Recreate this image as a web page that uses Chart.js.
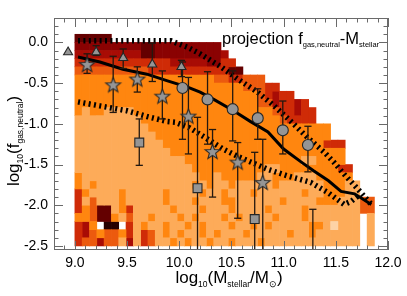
<!DOCTYPE html>
<html><head><meta charset="utf-8">
<script src="https://cdn.jsdelivr.net/npm/chart.js@4/dist/chart.umd.min.js"></script>
<style>html,body{margin:0;padding:0;background:#fff;}#wrap{width:407px;height:296px;}</style>
</head><body><div id="wrap"><canvas id="c" width="407" height="296"></canvas></div>
<script>
// ---------- axes ----------
const xRange = [8.8, 12.0];
const yRange = [-2.55, 0.3];
const xTickValues = [9.0, 9.5, 10.0, 10.5, 11.0, 11.5, 12.0];
const yTickValues = [-2.5, -2.0, -1.5, -1.0, -0.5, 0.0];

// ---------- 2D histogram (rows from top y=0.1 downward, 0.1 tall; columns from x=9.0, 0.07 wide) ----------
const binX0 = 9.0, binW = 0.07, binYTop = 0.1, binH = 0.1, nCols = 41;
const heatColors = { p:'#fdd3a6', l:'#fdab59', o:'#ff860f', d:'#ec5a0e', r:'#cf2b07', m:'#a80c05', k:'#8a0202', K:'#640000', x:'#280000' };
// run-length coded rows: code letter + number of cells ('.' = empty)
const heatRows = [
  "K5",
  "k9 K2 k9",
  "m9 K2 k9 m1",
  "r13 m5 k2 r2",
  "d10 r11 K2",
  "o19 d2 r2 d3",
  "o23 d3 r2",
  "o25 d1 r1 m1 r2",
  "o25 d2 m1 r2 m1 r1",
  "o1 l1 o2 l4 o19 d1 r2 m1 r2",
  "l9 o19 d1 r4",
  "l10 o25",
  "l11 o24",
  "l12 o22 r3",
  "l13 o24",
  "l15 o16 l2 o4",
  "l16 o10 l2 o8 r2",
  "o1 l16 o2 l1 o5 l2 o3 l3 o5",
  "o1 l1 o1 l13 o1 l1 o1 l2 o1 l5 o1 l6 o3 l2",
  "r1 o1 l4 o1 l5 o1 l4 o1 l2 o1 l3 o1 l6 o1 l2 o3 l2",
  "r1 l1 d1 l3 o1 l5 o1 l3 o1 l3 o2 l6 o1 l4 o3 l3 d2",
  "r1 o1 d1 K2 l1 o1 r1 l5 o1 l3 o1 l3 o1 l4 o1 l4 o1 l7 d2",
  "o2 d1 K2 o1 l1 d1 l2 o1 l3 o1 l1 o1 l3 o1 l1 o1 l4 o1 l3 o1 l7 .1 l1",
  "r1 m1 o1 .1 x2 .1 r1 l1 o1 l2 o1 l2 o1 l1 o1 l3 o1 l2 o1 l1 o1 l5 o2 l1 p1 l3 .1 l1",
  "r1 m1 d1 o1 d2 o1 r1 l1 r1 d1 l1 o1 l1 o1 l2 o1 l1 o1 l3 o1 l5 o1 l2 o1 l6 .1 l1",
  "r1 d2 m1 d2 l1 m1 l1 r1 d1 l2 o1 l1 o1 l2 o1 l2 o1 l3 o1 l13 .1 l1"
];

// ---------- curves ----------
const medianX = [9.03, 9.24, 9.46, 9.69, 9.88, 10.08, 10.2, 10.33, 10.52, 10.68, 10.85, 11.0, 11.17, 11.29, 11.43, 11.55, 11.68, 11.84];
const medianY = [-0.18, -0.24, -0.33, -0.39, -0.47, -0.55, -0.61, -0.70, -0.84, -0.97, -1.10, -1.31, -1.47, -1.58, -1.70, -1.83, -1.86, -1.99];
const upperX = [9.03, 9.5, 9.92, 10.08, 10.2, 10.4, 10.56, 10.75, 10.9, 11.07, 11.23, 11.39, 11.48, 11.58, 11.71, 11.84];
const upperY = [0.02, 0.02, 0.02, -0.06, -0.14, -0.30, -0.45, -0.61, -0.77, -0.97, -1.17, -1.35, -1.47, -1.62, -1.80, -1.99];
const lowerX = [9.03, 9.24, 9.5, 9.69, 9.88, 9.96, 10.1, 10.25, 10.42, 10.56, 10.85, 11.04, 11.26, 11.42, 11.58, 11.65, 11.72];
const lowerY = [-0.73, -0.78, -0.84, -0.91, -0.97, -0.98, -1.05, -1.17, -1.31, -1.40, -1.56, -1.64, -1.72, -1.84, -1.99, -1.95, -1.88];

// ---------- observational points ----------
const starX  = [9.117, 9.367, 9.598, 9.838, 10.088, 10.319, 10.56, 10.80];
const starY  = [-0.27, -0.52, -0.45, -0.66, -0.905, -1.34, -1.47, -1.72];
const starLo = [-0.38, -0.86, -0.61, -0.94, -1.37, -1.90, -2.16, -2.80];
const starHi = [-0.14, -0.17, -0.30, -0.35, -0.43, -1.07, -1.23, -1.19];
const circX  = [10.031, 10.271, 10.512, 10.752, 10.992, 11.233];
const circY  = [-0.56, -0.70, -0.82, -0.93, -1.08, -1.26];
const circLo = [-1.19, -1.25, -1.21, -1.19, -1.37, -1.59];
const circHi = [-0.24, -0.36, -0.35, -0.57, -0.72, -1.03];
const sqX  = [9.617, 10.175, 10.723, 11.28];
const sqY  = [-1.23, -1.79, -2.17, -2.90];
const sqLo = [-1.51, -3.00, -3.00, -3.50];
const sqHi = [-0.94, -0.92, -1.35, -2.05];
const triX  = [8.935, 9.204, 9.463, 9.742, 10.021];
const triY  = [-0.12, -0.12, -0.19, -0.27, -0.30];
const triLo = [null, -0.16, -0.32, -0.48, -0.42];
const triHi = [null, -0.04, -0.08, -0.01, -0.22];

// ---------- build ----------
const grid = heatRows.map(s => { let o = ''; s.split(' ').forEach(t => { o += t[0].repeat(parseInt(t.slice(1), 10)); }); return o; });
const heatDatasets = Object.keys(heatColors).map(code => {
  const data = [];
  for (let j = 0; j < nCols; j++) {
    let i = 0;
    while (i < grid.length) {
      if (grid[i][j] === code) {
        let k = i;
        while (k + 1 < grid.length && grid[k + 1][j] === code) k++;
        data.push({ x: binX0 + binW * (j + 0.5), y: [binYTop - binH * (k + 1), binYTop - binH * i] });
        i = k + 1;
      } else i++;
    }
  }
  return { type: 'bar', data, backgroundColor: heatColors[code], borderWidth: 0, grouped: false,
           barPercentage: 1, categoryPercentage: 1, order: 10 };
});
const pts = (xs, ys) => xs.map((x, i) => ({ x, y: ys[i] }));
function errData(xs, lo, hi) {
  const d = [];
  xs.forEach((x, i) => { if (lo[i] == null) return; d.push({ x, y: lo[i] }, { x, y: hi[i] }, { x, y: null }); });
  return d;
}
function makeStar(R, r) {
  const s = 19, c = document.createElement('canvas'); c.width = s; c.height = s;
  const g = c.getContext('2d'); g.beginPath();
  for (let k = 0; k < 10; k++) { const a = -Math.PI / 2 + k * Math.PI / 5, rr = k % 2 ? r : R; g.lineTo(s / 2 + rr * Math.cos(a), s / 2 + 0.6 + rr * Math.sin(a)); }
  g.closePath(); g.fillStyle = '#959595'; g.fill(); g.lineWidth = 1.1; g.strokeStyle = '#262626'; g.stroke();
  return c;
}
const errStyle = { type: 'line', borderColor: '#24180f', borderWidth: 1.3, pointStyle: 'line', pointRadius: 3.6,
                   pointBorderColor: '#24180f', pointBorderWidth: 1.3, spanGaps: false, order: 3 };
const mk = { type: 'line', showLine: false, backgroundColor: '#959595', borderColor: '#262626', pointBorderWidth: 1.1, order: 1 };
const datasets = [
  ...heatDatasets,
  { type: 'line', data: pts(upperX, upperY), borderColor: '#000', borderWidth: 5.5, borderDash: [2, 3.4], pointRadius: 0, order: 5 },
  { type: 'line', data: pts(lowerX, lowerY), borderColor: '#000', borderWidth: 5.5, borderDash: [2, 3.4], pointRadius: 0, order: 5 },
  { type: 'line', data: pts(medianX, medianY), borderColor: '#000', borderWidth: 3, pointRadius: 0, order: 4 },
  { ...errStyle, data: errData(starX, starLo, starHi) },
  { ...errStyle, data: errData(circX, circLo, circHi) },
  { ...errStyle, data: errData(sqX, sqLo, sqHi) },
  { ...errStyle, data: errData(triX, triLo, triHi) },
  { ...mk, data: pts(starX, starY), pointStyle: makeStar(7.8, 3.3) },
  { ...mk, data: pts(circX, circY), pointStyle: 'circle', pointRadius: 5.5 },
  { ...mk, data: pts(sqX, sqY), pointStyle: 'rect', pointRadius: 6.3 },
  { ...mk, data: pts(triX, triY), pointStyle: 'triangle', pointRadius: 5.2 }
];

const FAM = '"Liberation Sans", Arial, Helvetica, sans-serif';
function drawRich(ctx, parts, x, y, main, sub, drop, align) {
  let total = 0;
  parts.forEach(p => { ctx.font = (p.s ? sub : main) + 'px ' + FAM; p.w = ctx.measureText(p.t).width; total += p.w; });
  let cx = align === 'center' ? x - total / 2 : x;
  ctx.textAlign = 'left'; ctx.textBaseline = 'alphabetic';
  parts.forEach(p => { ctx.font = (p.s ? sub : main) + 'px ' + FAM; ctx.fillText(p.t, cx, y + (p.s ? drop : 0)); cx += p.w; });
}
const idlAxes = {
  id: 'idlAxes',
  afterDraw(chart) {
    const { ctx, chartArea: a } = chart, xs = chart.scales.x, ys = chart.scales.y;
    ctx.save();
    ctx.strokeStyle = '#6a6a6a'; ctx.lineWidth = 1;
    ctx.strokeRect(a.left + 0.5, a.top + 0.5, a.right - a.left - 1, a.bottom - a.top - 1);
    ctx.beginPath();
    for (let k = 0; k <= 32; k++) {
      const v = xRange[0] + k * 0.1, px = Math.round(xs.getPixelForValue(v)) + 0.5;
      const L = xTickValues.some(t => Math.abs(t - v) < 1e-6) ? 9 : 4.5;
      ctx.moveTo(px, a.bottom); ctx.lineTo(px, a.bottom - L);
      ctx.moveTo(px, a.top); ctx.lineTo(px, a.top + L);
    }
    for (let k = 0; k <= 28; k++) {
      const v = -2.5 + k * 0.1, py = Math.round(ys.getPixelForValue(v)) + 0.5;
      const L = yTickValues.some(t => Math.abs(t - v) < 1e-6) ? 9 : 4.5;
      ctx.moveTo(a.left, py); ctx.lineTo(a.left + L, py);
      ctx.moveTo(a.right, py); ctx.lineTo(a.right - L, py);
    }
    ctx.stroke();
    ctx.fillStyle = '#000';
    drawRich(ctx, [{ t: 'projection f' }, { t: 'gas,neutral', s: 1 }, { t: '-M' }, { t: 'stellar', s: 1 }], 222, 44, 16.5, 7.5, 3, 'left');
    drawRich(ctx, [{ t: 'log' }, { t: '10', s: 1 }, { t: '(M' }, { t: 'stellar', s: 1 }, { t: '/M' }, { t: '\u2299', s: 1 }, { t: ')' }], 229, 283, 17, 8.5, 4, 'center');
    ctx.translate(19, 141); ctx.rotate(-Math.PI / 2);
    drawRich(ctx, [{ t: 'log' }, { t: '10', s: 1 }, { t: '(f' }, { t: 'gas,neutral', s: 1 }, { t: ')' }], 0, 0, 17, 8.5, 4, 'center');
    ctx.restore();
  }
};

new Chart(document.getElementById('c'), {
  type: 'bar',
  data: { datasets },
  options: {
    responsive: false, animation: false, events: [],
    layout: { padding: { left: 0, top: 18, right: 19, bottom: 0 } },
    plugins: { legend: { display: false }, tooltip: { enabled: false } },
    scales: {
      x: { type: 'linear', offset: false, min: xRange[0], max: xRange[1],
           grid: { display: false, drawTicks: false }, border: { display: false },
           afterBuildTicks: s => { s.ticks = xTickValues.map(v => ({ value: v })); },
           afterFit: s => { s.height = 46; s.paddingLeft = 0; s.paddingRight = 0; },
           ticks: { autoSkip: false, maxRotation: 0, padding: 5, color: '#000', font: { family: FAM, size: 14 }, callback: v => Number(v).toFixed(1) } },
      y: { type: 'linear', min: yRange[0], max: yRange[1],
           grid: { display: false, drawTicks: false }, border: { display: false },
           afterBuildTicks: s => { s.ticks = yTickValues.map(v => ({ value: v })); },
           afterFit: s => { s.width = 54; s.paddingTop = 0; s.paddingBottom = 0; },
           ticks: { autoSkip: false, padding: 6, color: '#000', font: { family: FAM, size: 14 }, callback: v => Number(v).toFixed(1) } }
    }
  },
  plugins: [idlAxes]
});
</script></body></html>
